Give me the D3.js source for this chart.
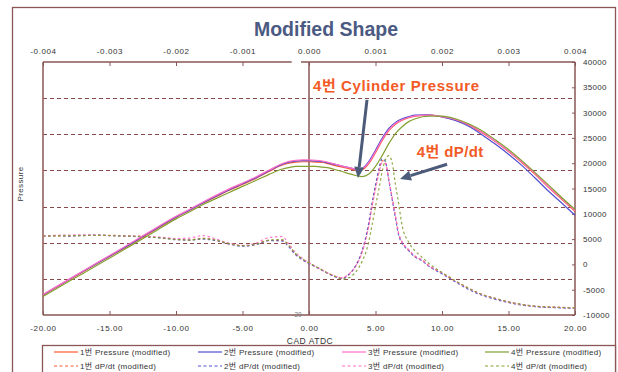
<!DOCTYPE html>
<html>
<head>
<meta charset="utf-8">
<script src="https://cdn.jsdelivr.net/npm/d3@7"></script>
<style>
  html, body { margin: 0; padding: 0; background: #fff; }
  svg { display: block; font-family: "Liberation Sans", "Noto Sans CJK KR", sans-serif; }
</style>
</head>
<body>
<svg id="chart" width="618" height="372"></svg>
<script>
// ---- crank angle grids (deg ATDC) ----
const pressureAngle = [-20,-18,-16,-14,-12,-10,-9,-8,-7,-6,-5,-4,-3,-2,
  -1.5,-1,-0.5,0,0.5,1,1.5,2,2.5,3,3.5,4,4.5,5,5.5,6,6.5,7,7.5,8,
  9,10,11,12,13,14,15,16,17,18,19,20];

const dpdtAngle = [-20,-19,-18,-17,-16,-15,-14,-13,-12,-11,-10,-9,-8,-7,-6,-5,-4,-3,-2,
  -1.5,-1,-0.5,0,0.5,1,1.5,2,2.5,3,3.5,4,
  4.25,4.5,4.75,5,5.25,5.5,5.75,6,6.25,6.5,6.75,7,
  7.5,8,8.5,9,
  10,11,12,13,14,15,16,17,18,19,20];

// ---- cylinder pressure, per cylinder (left axis) ----
const pressure1 = [5.5,9.8,14.1,18.3,22.6,27.0,28.9,30.9,32.7,34.5,36.1,37.8,39.7,41.5,
  42.0,42.3,42.4,42.4,42.3,42.2,41.8,41.3,40.9,40.5,40.1,40.2,41.9,44.9,48.2,51.0,52.8,53.9,54.6,55.0,
  55.3,54.8,54.0,52.6,50.4,48.0,45.2,42.2,38.9,35.3,32.0,28.7];
const pressure2 = [5.6,9.9,14.2,18.4,22.8,27.1,29.0,31.0,32.9,34.7,36.3,38.0,39.9,41.7,
  42.3,42.6,42.7,42.7,42.6,42.4,42.0,41.6,41.2,40.8,40.4,40.6,42.5,45.6,48.9,51.6,53.3,54.3,54.9,55.3,
  55.4,54.8,53.8,52.2,49.9,47.3,44.5,41.4,37.9,34.3,31.0,27.6];
const pressure3 = [5.7,10.0,14.3,18.6,23.0,27.3,29.2,31.2,33.1,34.9,36.5,38.2,40.1,41.9,
  42.5,42.8,42.9,42.9,42.8,42.6,42.2,41.7,41.2,40.8,40.4,40.5,42.2,45.2,48.5,51.2,53.0,54.0,54.7,55.1,
  55.3,54.9,54.1,52.7,50.6,48.1,45.4,42.4,39.1,35.5,32.2,28.9];
const pressure4 = [5.1,9.4,13.6,17.9,22.2,26.6,28.5,30.5,32.2,33.9,35.6,37.2,38.9,40.4,
  40.8,41.1,41.1,41.1,41.1,40.9,40.7,40.2,39.7,39.1,38.6,38.3,39.0,41.1,44.1,47.4,50.2,52.1,53.5,54.3,
  55.0,55.0,54.3,52.9,51.0,48.5,45.8,42.7,39.4,36.0,32.5,29.2];

// ---- pressure rise rate dP/dt, per cylinder (right axis) ----
const dpdt1 = [5550,5650,5650,5750,5750,5750,5650,5550,5450,5260,4960,4860,5160,4760,4070,3680,3980,4760,4760,
  3580,2010,1020,240,-450,-1140,-1830,-2420,-2720,-1930,-350,2600,
  4960,7910,11850,15200,18350,20510,20120,16770,13230,9490,5940,4370,
  2800,1520,830,-260,
  -1730,-3310,-4780,-5960,-6750,-7440,-7930,-8290,-8430,-8520,-8620];
const dpdt2 = [5600,5700,5600,5700,5800,5700,5600,5500,5400,5200,4900,4800,5000,4700,4000,3600,3900,4700,4600,
  3400,1900,900,150,-500,-1200,-1900,-2500,-2800,-2000,-300,2800,
  5200,8300,12300,15700,18800,20900,20300,16600,12900,9100,5700,4200,
  2700,1400,700,-350,
  -1850,-3450,-4950,-6100,-6900,-7550,-8050,-8350,-8500,-8600,-8700];
const dpdt3 = [5650,5750,5800,5850,5800,5700,5650,5600,5500,5350,5100,5200,5700,5000,4200,3750,4200,5300,5500,
  4000,2300,1200,350,-400,-1100,-1800,-2350,-2650,-1900,-400,2500,
  4800,7700,11600,14900,18000,20100,19900,16700,13300,9600,6100,4500,
  2900,1600,900,-200,
  -1650,-3250,-4700,-5900,-6700,-7400,-7900,-8250,-8400,-8500,-8600];
const dpdt4 = [5600,5650,5700,5700,5750,5700,5600,5550,5400,5200,4950,4800,5100,4800,4100,3700,4000,4800,4900,
  3700,2100,1100,300,-400,-1100,-1800,-2400,-2900,-2620,-1540,630,
  2200,4570,7910,11460,14800,18350,20710,21500,20120,15790,11850,7720,
  4370,2600,1420,240,
  -1600,-3200,-4700,-5900,-6700,-7400,-7900,-8250,-8400,-8500,-8600];

// ---- series names and colours ----
const cylinderNames = ["1번", "2번", "3번", "4번"];
const cylinderColors = ["#ff5a30", "#5050d0", "#ff6ec8", "#84a032"];

// ---- axis ticks ----
const bottomTicks = [-20,-15,-10,-5,0,5,10,15,20];
const bottomTickLabels = ["-20.00","-15.00","-10.00","-5.00","0.00","5.00","10.00","15.00","20.00"];
const topTicks = [-0.004,-0.003,-0.002,-0.001,0,0.001,0.002,0.003,0.004];
const topTickLabels = ["-0.004","-0.003","-0.002","-0.001","0.000","0.001","0.002","0.003","0.004"];
const rightTicks = [40000,35000,30000,25000,20000,15000,10000,5000,0,-5000,-10000];
const rightTickLabels = ["40000","35000","30000","25000","20000","15000","10000","5000","0","-5000","-10000"];
const pressureGrid = [10,20,30,40,50,60];

// ---- annotations (data coordinates) ----
const pressureNote = { text: "4번 Cylinder Pressure", ca: 0.3, p: 62.0,
  from: [4.36, 59.5], to: [3.68, 37.9] };
const dpdtNote = { text: "4번 dP/dt", ca: 8.1, d: 21200,
  from: [10.38, 19800], to: [6.84, 16900] };

// ------------------------------------------------------------------
const svg = d3.select("#chart");
const W = 618, H = 372;
const plot = { left: 43, right: 575, top: 62, bottom: 315 };
const frameColor = "#8a5656";
const textColor = "#333";

svg.append("rect").attr("width", W).attr("height", H).attr("fill", "#fff");

// outer chart frame
svg.append("rect")
  .attr("x", 12.5).attr("y", 7.5).attr("width", 603).attr("height", 380)
  .attr("fill", "none").attr("stroke", frameColor).attr("stroke-width", 1.3);

// title
svg.append("text")
  .attr("x", 326).attr("y", 36)
  .attr("text-anchor", "middle")
  .attr("font-size", 19.5).attr("font-weight", "bold")
  .attr("fill", "#4b5a82")
  .text("Modified Shape");

const x = d3.scaleLinear().domain([-20, 20]).range([plot.left, plot.right]);
const xTop = d3.scaleLinear().domain([-0.004, 0.004]).range([plot.left, plot.right]);
const yP = d3.scaleLinear().domain([0, 70]).range([plot.bottom, plot.top]);
const yD = d3.scaleLinear().domain([-10000, 40000]).range([plot.bottom, plot.top]);

// horizontal grid on the pressure axis
svg.append("g").selectAll("line").data(pressureGrid).join("line")
  .attr("x1", plot.left).attr("x2", plot.right)
  .attr("y1", d => Math.round(yP(d)) + 0.5).attr("y2", d => Math.round(yP(d)) + 0.5)
  .attr("stroke", "#8a4848").attr("stroke-width", 1)
  .attr("stroke-dasharray", "4,3");

// axes
function styleAxis(g) {
  g.select(".domain").remove();
  g.selectAll(".tick line").attr("stroke", frameColor).attr("stroke-width", 1);
  g.selectAll(".tick text").attr("fill", textColor).attr("font-size", 8)
    .attr("letter-spacing", 0.6)
    .attr("font-family", "'Liberation Sans', sans-serif");
}

svg.append("g")
  .attr("transform", `translate(0,${plot.bottom})`)
  .call(d3.axisBottom(x).tickValues(bottomTicks)
    .tickFormat((d, i) => bottomTickLabels[i]).tickSize(-4).tickPadding(10))
  .call(styleAxis);

svg.append("g")
  .attr("transform", `translate(0,${plot.top})`)
  .call(d3.axisTop(xTop).tickValues(topTicks)
    .tickFormat((d, i) => topTickLabels[i]).tickSize(-4).tickPadding(8))
  .call(styleAxis);

svg.append("g")
  .attr("transform", `translate(${plot.right},0)`)
  .call(d3.axisRight(yD).tickValues(rightTicks)
    .tickFormat((d, i) => rightTickLabels[i]).tickSize(-3).tickPadding(8))
  .call(g => {
    styleAxis(g);
    g.selectAll(".tick text").attr("text-anchor", "start").attr("letter-spacing", 0.3);
  });

// plot frame and the zero-crank-angle line
const frame = svg.append("g").attr("stroke", frameColor).attr("stroke-width", 1.5).attr("fill", "none");
frame.append("line").attr("x1", plot.left).attr("x2", plot.left).attr("y1", plot.top).attr("y2", plot.bottom);
frame.append("line").attr("x1", plot.right).attr("x2", plot.right).attr("y1", plot.top).attr("y2", plot.bottom);
frame.append("line").attr("x1", plot.left).attr("x2", plot.right).attr("y1", plot.bottom).attr("y2", plot.bottom);
frame.append("line").attr("x1", plot.left).attr("x2", x(-1.3)).attr("y1", plot.top).attr("y2", plot.top);
frame.append("line").attr("x1", x(-0.6)).attr("x2", plot.right).attr("y1", plot.top).attr("y2", plot.top);
frame.append("line").attr("x1", x(0)).attr("x2", x(0)).attr("y1", plot.top).attr("y2", plot.bottom);

// faint secondary-axis label left near the zero line
svg.append("text").attr("x", x(-0.9)).attr("y", plot.bottom + 2)
  .attr("text-anchor", "middle").attr("font-size", 6.5).attr("fill", "#777")
  .text("-20");

// axis titles
svg.append("text")
  .attr("transform", "translate(23,184) rotate(-90)")
  .attr("text-anchor", "middle").attr("font-size", 8).attr("fill", textColor)
  .attr("letter-spacing", 0.4)
  .text("Pressure");
svg.append("text")
  .attr("x", 310).attr("y", 344)
  .attr("text-anchor", "middle").attr("font-size", 8.5).attr("fill", textColor)
  .attr("letter-spacing", 0.5)
  .text("CAD ATDC");

// curves
const pressureSeries = [pressure1, pressure2, pressure3, pressure4];
const dpdtSeries = [dpdt1, dpdt2, dpdt3, dpdt4];

const pLine = d3.line().x((d, i) => x(pressureAngle[i])).y(d => yP(d)).curve(d3.curveMonotoneX);
const dLine = d3.line().x((d, i) => x(dpdtAngle[i])).y(d => yD(d)).curve(d3.curveMonotoneX);

const curves = svg.append("g").attr("fill", "none");
dpdtSeries.forEach((s, k) => {
  curves.append("path").datum(s).attr("d", dLine)
    .attr("stroke", cylinderColors[k]).attr("stroke-width", 1.2)
    .attr("stroke-dasharray", "2.5,2.5").attr("opacity", 0.9);
});
pressureSeries.forEach((s, k) => {
  curves.append("path").datum(s).attr("d", pLine)
    .attr("stroke", cylinderColors[k]).attr("stroke-width", 1.2);
});

// annotations
const noteColor = "#f25a26";
const arrowColor = "#4c5b7a";
function arrow(x1, y1, x2, y2) {
  const ang = Math.atan2(y2 - y1, x2 - x1);
  const headLen = 11, headHalf = 5;
  const bx = x2 - headLen * Math.cos(ang), by = y2 - headLen * Math.sin(ang);
  svg.append("line").attr("x1", x1).attr("y1", y1).attr("x2", bx).attr("y2", by)
    .attr("stroke", arrowColor).attr("stroke-width", 3);
  const px = -Math.sin(ang), py = Math.cos(ang);
  svg.append("path")
    .attr("d", `M${x2},${y2}L${bx + px * headHalf},${by + py * headHalf}L${bx - px * headHalf},${by - py * headHalf}Z`)
    .attr("fill", arrowColor);
}
svg.append("text").attr("x", x(pressureNote.ca)).attr("y", yP(pressureNote.p))
  .attr("font-size", 15).attr("font-weight", "bold").attr("fill", noteColor)
  .attr("letter-spacing", 0.6)
  .text(pressureNote.text);
arrow(x(pressureNote.from[0]), yP(pressureNote.from[1]), x(pressureNote.to[0]), yP(pressureNote.to[1]));

svg.append("text").attr("x", x(dpdtNote.ca)).attr("y", yD(dpdtNote.d))
  .attr("font-size", 15).attr("font-weight", "bold").attr("fill", noteColor)
  .attr("letter-spacing", 0.4)
  .text(dpdtNote.text);
arrow(x(dpdtNote.from[0]), yD(dpdtNote.from[1]), x(dpdtNote.to[0]), yD(dpdtNote.to[1]));

// legend
svg.append("rect")
  .attr("x", 42.5).attr("y", 345.5).attr("width", 573).attr("height", 40)
  .attr("fill", "#fff").attr("stroke", frameColor).attr("stroke-width", 1.3);

const legendCols = [54, 198, 342, 485];
const legendRows = [352, 366];
const legend = svg.append("g");
cylinderNames.forEach((name, k) => {
  [["Pressure (modified)", null], ["dP/dt (modified)", "3,2.5"]].forEach(([label, dash], r) => {
    const lx = legendCols[k], ly = legendRows[r];
    legend.append("line")
      .attr("x1", lx).attr("x2", lx + 24).attr("y1", ly).attr("y2", ly)
      .attr("stroke", cylinderColors[k]).attr("stroke-width", 1.2)
      .attr("stroke-dasharray", dash);
    legend.append("text")
      .attr("x", lx + 26).attr("y", ly + 3)
      .attr("font-size", 8).attr("fill", textColor)
      .attr("letter-spacing", 0.3)
      .text(`${name} ${label}`);
  });
});
</script>
</body>
</html>
